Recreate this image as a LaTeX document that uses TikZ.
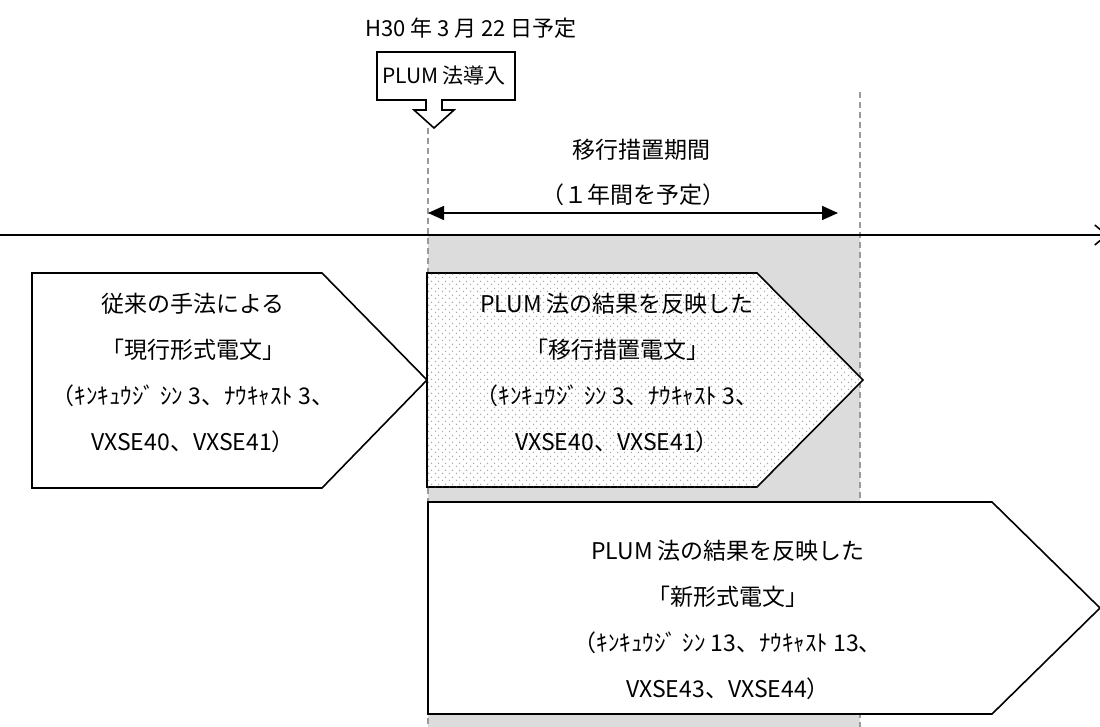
\documentclass[tikz,border=0pt]{standalone}
\usepackage{fontspec}
\setmainfont{Noto Sans CJK JP}
\usetikzlibrary{arrows.meta,patterns.meta}
\definecolor{periodgray}{HTML}{DCDCDC}
\definecolor{dashgray}{HTML}{9A9A9A}
\definecolor{dotgray}{HTML}{A8A8A8}
\pgfdeclarepattern{
  name=sparsedots,
  type=uncolored,
  bottom left={\pgfpoint{0pt}{0pt}},
  top right={\pgfpoint{7pt}{7pt}},
  tile size={\pgfpoint{7pt}{7pt}},
  code={
    \pgfpathcircle{\pgfpoint{1.75pt}{1.75pt}}{0.85pt}
    \pgfpathcircle{\pgfpoint{5.25pt}{5.25pt}}{0.85pt}
    \pgfusepath{fill}
  }
}
\tikzset{
  lbl/.style={font=\fontsize{23}{46}\selectfont, align=center, inner sep=0pt},
  boxline/.style={draw=black, line width=1.6pt, line join=miter},
  guide/.style={draw=dashgray, line width=1.3pt, dash pattern=on 6pt off 4pt},
}
\begin{document}
\begin{tikzpicture}[x=1pt,y=-1pt]
\useasboundingbox (0,0) rectangle (1100,727);
\clip (0,0) rectangle (1100,727);
% shaded transition period
\fill[periodgray] (428,236) rectangle (860,727);
% guides
\coordinate (gL1) at (428,128);
\coordinate (gL2) at (428,727);
\coordinate (gR1) at (860,92);
\coordinate (gR2) at (860,727);
\draw[guide] (gL1) -- (gL2);
\draw[guide] (gR1) -- (gR2);
% timeline
\coordinate (t0) at (0,235);
\coordinate (t1) at (1108,235);
\draw[line width=1.6pt, -{Straight Barb[length=12pt,width=20pt,line width=1.6pt]}] (t0) -- (t1);
% period arrow
\coordinate (p0) at (428,213);
\coordinate (p1) at (838,213);
\draw[line width=1.6pt, {Triangle[length=16pt,width=14pt]}-{Triangle[length=16pt,width=14pt]}] (p0) -- (p1);
\node[lbl] (period) at (641,150) {移行措置期間};
\node[lbl] (year) at (633,195) {（１年間を予定）};
% date and callout
\node[lbl, font=\fontsize{22}{46}\selectfont] (date) at (471,28) {H30 年 3 月 22 日予定};
\draw[boxline, fill=white] (377,52) -- (515,52) -- (515,100) -- (442,100) -- (442,110) -- (454,110) -- (434,128) -- (414,110) -- (426,110) -- (426,100) -- (377,100) -- cycle;
\node[lbl, font=\fontsize{21}{46}\selectfont] (plum) at (444,76) {PLUM 法導入};
% box 1
\draw[boxline, fill=white] (32,273) -- (322,273) -- (427,380) -- (322,488) -- (32,488) -- cycle;
\node[lbl] (b1) at (193,373) {従来の手法による\\「現行形式電文」\\（ｷﾝｷｭｳｼﾞ ｼﾝ 3、ﾅｳｷｬｽﾄ 3、\\VXSE40、VXSE41）};
% box 2
\draw[boxline, fill=white, postaction={pattern=sparsedots, pattern color=dotgray}] (427,273) -- (757,273) -- (863,380) -- (757,487) -- (427,487) -- cycle;
\node[lbl] (b2) at (617,373) {PLUM 法の結果を反映した\\「移行措置電文」\\（ｷﾝｷｭｳｼﾞ ｼﾝ 3、ﾅｳｷｬｽﾄ 3、\\VXSE40、VXSE41）};
% box 3
\draw[boxline, fill=white] (428,502) -- (992,502) -- (1100,608) -- (992,714) -- (428,714) -- cycle;
\node[lbl] (b3) at (728,620) {PLUM 法の結果を反映した\\「新形式電文」\\（ｷﾝｷｭｳｼﾞ ｼﾝ 13、ﾅｳｷｬｽﾄ 13、\\VXSE43、VXSE44）};
\end{tikzpicture}
\end{document}
